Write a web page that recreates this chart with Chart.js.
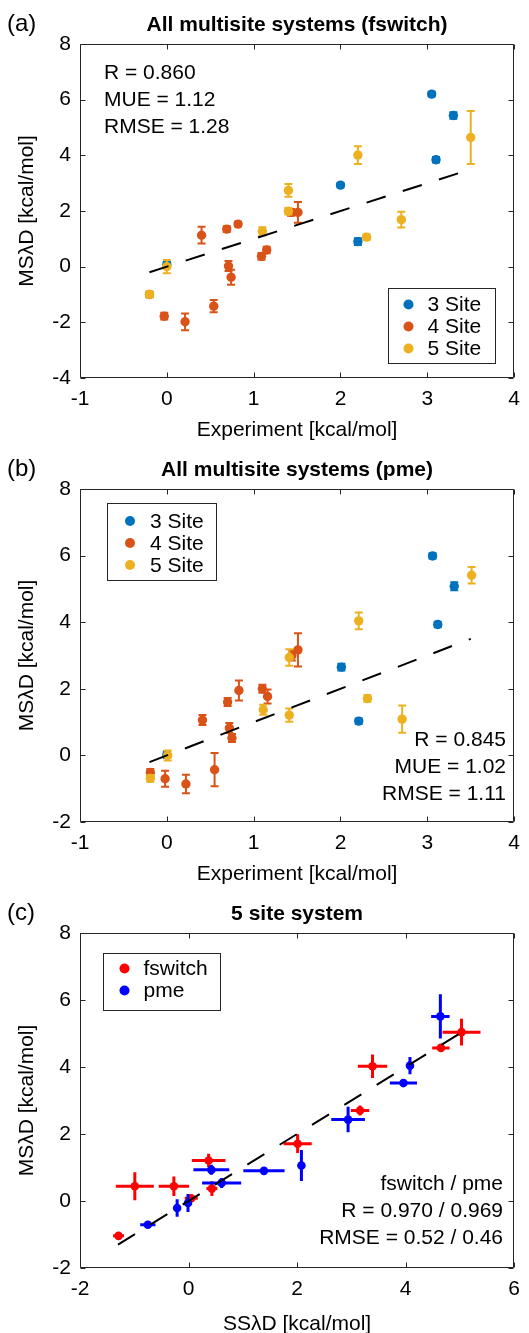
<!DOCTYPE html>
<html>
<head>
<meta charset="utf-8">
<title>MSλD multisite</title>
<script src="https://cdn.jsdelivr.net/npm/chart.js@4"></script>
<style>
  html, body { margin: 0; padding: 0; background: #fff; overflow: hidden; }
  .panel { position: absolute; left: 0; width: 529px; }
</style>
</head>
<body>
<div class="panel" style="top:0;height:445px"><canvas id="chartA"></canvas></div>
<div class="panel" style="top:445px;height:444px"><canvas id="chartB"></canvas></div>
<div class="panel" style="top:889px;height:450px"><canvas id="chartC"></canvas></div>
<script>
// 資料 (a) fswitch：實驗值 vs MSλD
const a3x = [0, 2.0, 2.2, 3.05, 3.1, 3.3];
const a3y = [0.08, 2.93, 0.9, 6.2, 3.84, 5.43];
const a3e = [0.1, 0.08, 0.12, 0.08, 0.1, 0.12];
const a4x = [-0.2, -0.03, 0.21, 0.4, 0.54, 0.69, 0.82, 0.71, 0.74, 1.09, 1.15, 1.43, 1.51];
const a4y = [-1.0, -1.78, -1.98, 1.13, -1.42, 1.35, 1.53, 0.02, -0.38, 0.37, 0.6, 1.95, 1.95];
const a4e = [0.1, 0.12, 0.3, 0.3, 0.22, 0.1, 0.08, 0.18, 0.27, 0.12, 0.12, 0.12, 0.37];
const a5x = [-0.2, 0, 1.1, 1.4, 1.4, 2.2, 2.3, 2.7, 3.5];
const a5y = [-1.0, 0.0, 1.27, 2.74, 1.99, 4.01, 1.06, 1.69, 4.64];
const a5e = [0.1, 0.24, 0.15, 0.23, 0.12, 0.32, 0.1, 0.28, 0.95];
const diagA = [-0.2, 3.5];

// 資料 (b) pme
const b3x = [0, 2.01, 2.21, 3.06, 3.12, 3.31];
const b3y = [0.02, 2.65, 1.03, 5.99, 3.93, 5.08];
const b3e = [0.1, 0.1, 0.08, 0.08, 0.08, 0.12];
const b4x = [-0.19, -0.02, 0.22, 0.41, 0.55, 0.70, 0.83, 0.72, 0.75, 1.10, 1.16, 1.44, 1.51];
const b4y = [-0.51, -0.70, -0.86, 1.06, -0.43, 1.60, 1.95, 0.82, 0.52, 2.0, 1.77, 3.0, 3.17];
const b4e = [0.1, 0.24, 0.28, 0.15, 0.5, 0.12, 0.3, 0.15, 0.12, 0.12, 0.21, 0.15, 0.5];
const b5x = [-0.19, 0.01, 1.11, 1.41, 1.41, 2.21, 2.31, 2.71, 3.51];
const b5y = [-0.69, 0.0, 1.37, 2.94, 1.21, 4.04, 1.71, 1.09, 5.41];
const b5e = [0.1, 0.15, 0.15, 0.25, 0.2, 0.25, 0.1, 0.41, 0.25];
const diagB = [-0.2, 3.5];

// 資料 (c) 5 site：SSλD vs MSλD
const fsX = [-1.29, -0.99, -0.27, 0.05, 0.37, 0.43, 2.01, 3.16, 3.39, 4.65, 5.03];
const fsY = [-1.04, 0.44, 0.44, 0.08, 1.21, 0.37, 1.71, 2.70, 4.02, 4.57, 5.04];
const fsXerr = [0.1, 0.35, 0.28, 0.12, 0.31, 0.1, 0.26, 0.17, 0.27, 0.16, 0.35];
const fsYerr = [0.08, 0.42, 0.29, 0.1, 0.2, 0.22, 0.28, 0.15, 0.35, 0.06, 0.4];
const pmeX = [-0.75, -0.21, -0.01, 0.42, 0.61, 1.39, 2.08, 2.94, 3.96, 4.08, 4.64];
const pmeY = [-0.71, -0.21, -0.06, 0.93, 0.54, 0.90, 1.06, 2.43, 3.52, 4.04, 5.51];
const pmeXerr = [0.14, 0.05, 0.06, 0.33, 0.36, 0.38, 0.05, 0.31, 0.25, 0.06, 0.17];
const pmeYerr = [0.06, 0.26, 0.27, 0.15, 0.15, 0.1, 0.46, 0.38, 0.05, 0.26, 0.66];
const diagC = [-1.3, 5.05];

// 刻度
const xTicksAB = [-1, 0, 1, 2, 3, 4];
const yTicksA = [-4, -2, 0, 2, 4, 6, 8];
const yTicksB = [-2, 0, 2, 4, 6, 8];
const xTicksC = [-2, 0, 2, 4, 6];
const yTicksC = [-2, 0, 2, 4, 6, 8];

// 文字
const sitesLabels = ['3 Site', '4 Site', '5 Site'];
const methodLabels = ['fswitch', 'pme'];
const statsA = ['R = 0.860', 'MUE = 1.12', 'RMSE = 1.28'];
const statsB = ['R = 0.845', 'MUE = 1.02', 'RMSE = 1.11'];
const statsC = ['fswitch / pme', 'R = 0.970 / 0.969', 'RMSE = 0.52 / 0.46'];

const FONT = "'Liberation Sans', Arial, Helvetica, sans-serif";
Chart.defaults.font.family = FONT;
Chart.defaults.color = '#000';
const C_BLUE = '#0072BD', C_ORANGE = '#D95319', C_YELLOW = '#EDB120';

const pts = (xs, ys) => xs.map((x, i) => ({ x: x, y: ys[i] }));

// 誤差棒：在各資料集之前畫
const errorBars = {
    id: 'errorBars',
    beforeDatasetDraw(chart, args) {
        const ds = chart.data.datasets[args.index];
        if (!ds.yErr && !ds.xErr) return;
        const { ctx, scales: { x, y } } = chart;
        const cap = ds.cap || 0;
        ctx.save();
        ctx.strokeStyle = ds.backgroundColor;
        ctx.lineWidth = ds.errWidth || 2;
        ds.data.forEach((p, i) => {
            const px = x.getPixelForValue(p.x), py = y.getPixelForValue(p.y);
            ctx.beginPath();
            if (ds.yErr) {
                const t = y.getPixelForValue(p.y + ds.yErr[i]), b = y.getPixelForValue(p.y - ds.yErr[i]);
                ctx.moveTo(px, t); ctx.lineTo(px, b);
                if (cap) {
                    ctx.moveTo(px - cap, t); ctx.lineTo(px + cap, t);
                    ctx.moveTo(px - cap, b); ctx.lineTo(px + cap, b);
                }
            }
            if (ds.xErr) {
                const l = x.getPixelForValue(p.x - ds.xErr[i]), r = x.getPixelForValue(p.x + ds.xErr[i]);
                ctx.moveTo(l, py); ctx.lineTo(r, py);
            }
            ctx.stroke();
        });
        ctx.restore();
    }
};

// 外框 + 內向刻度 (MATLAB box on)
const frame = {
    id: 'frame',
    afterDatasetsDraw(chart) {
        const { ctx, chartArea: a, scales: { x, y } } = chart;
        const L = Math.round(a.left) + 0.5, R = Math.round(a.right) - 0.5;
        const T = Math.round(a.top) + 0.5, B = Math.round(a.bottom) - 0.5;
        ctx.save();
        ctx.strokeStyle = '#262626';
        ctx.lineWidth = 1;
        ctx.beginPath();
        ctx.rect(L, T, R - L, B - T);
        x.ticks.forEach(t => {
            const px = Math.round(x.getPixelForValue(t.value)) + 0.5;
            ctx.moveTo(px, B); ctx.lineTo(px, B - 5);
            ctx.moveTo(px, T); ctx.lineTo(px, T + 5);
        });
        y.ticks.forEach(t => {
            const py = Math.round(y.getPixelForValue(t.value)) + 0.5;
            ctx.moveTo(L, py); ctx.lineTo(L + 5, py);
            ctx.moveTo(R, py); ctx.lineTo(R - 5, py);
        });
        ctx.stroke();
        ctx.restore();
    }
};

// 面板標記、圖例、統計文字
function decor(cfg) {
    return {
        id: 'decor',
        afterDraw(chart) {
            const ctx = chart.ctx;
            ctx.save();
            ctx.fillStyle = '#000';
            ctx.textBaseline = 'middle';
            ctx.font = '24px ' + FONT;
            ctx.textAlign = 'left';
            ctx.fillText(cfg.label, 7, 24);

            const lg = cfg.legend;
            ctx.fillStyle = '#fff';
            ctx.fillRect(lg.box[0], lg.box[1], lg.box[2] - lg.box[0], lg.box[3] - lg.box[1]);
            ctx.strokeStyle = '#262626';
            ctx.lineWidth = 1;
            ctx.strokeRect(Math.round(lg.box[0]) + 0.5, Math.round(lg.box[1]) + 0.5,
                Math.round(lg.box[2] - lg.box[0]), Math.round(lg.box[3] - lg.box[1]));
            ctx.font = '21px ' + FONT;
            const items = chart.data.datasets.filter(d => d.inLegend).sort((p, q) => p.legendIndex - q.legendIndex);
            items.forEach((d, i) => {
                const yy = lg.y0 + i * lg.dy;
                ctx.fillStyle = d.backgroundColor;
                ctx.beginPath();
                ctx.arc(lg.mx, yy, 5, 0, Math.PI * 2);
                ctx.fill();
                ctx.fillStyle = '#000';
                ctx.fillText(d.label, lg.tx, yy + 1);
            });

            const st = cfg.stats;
            ctx.textAlign = st.align;
            st.lines.forEach((s, i) => ctx.fillText(s, st.x, st.y0 + i * st.dy));
            ctx.restore();
        }
    };
}

function makeScales(xt, yt, xTitle, yTitle, xH) {
    return {
        x: {
            type: 'linear', min: xt[0], max: xt[xt.length - 1],
            afterBuildTicks: s => { s.ticks = xt.map(v => ({ value: v })); },
            afterFit: s => { s.height = xH; },
            grid: { display: false, drawTicks: false },
            border: { display: false },
            ticks: { padding: 9, color: '#000', font: { size: 21 }, maxRotation: 0, autoSkip: false, callback: v => String(v) },
            title: { display: true, text: xTitle, color: '#000', font: { size: 21 }, padding: { top: 0, bottom: 2 } }
        },
        y: {
            type: 'linear', min: yt[0], max: yt[yt.length - 1],
            afterBuildTicks: s => { s.ticks = yt.map(v => ({ value: v })); },
            afterFit: s => { s.width = 80; },
            grid: { display: false, drawTicks: false },
            border: { display: false },
            ticks: { padding: 9, color: '#000', font: { size: 21 }, autoSkip: false, callback: v => String(v) },
            title: { display: true, text: yTitle, color: '#000', font: { size: 21 }, padding: { top: 15, bottom: 0 } }
        }
    };
}

function baseOptions(title, scales) {
    return {
        responsive: true,
        maintainAspectRatio: false,
        animation: false,
        events: [],
        layout: { padding: { left: 0, right: 6, top: 0, bottom: 0 } },
        plugins: {
            legend: { display: false },
            tooltip: { enabled: false },
            title: {
                display: true, text: title, color: '#000', fullSize: false,
                font: { size: 21, weight: 'bold', lineHeight: 1.2 },
                padding: { top: 13, bottom: 5.8 }
            }
        },
        scales: scales
    };
}

function siteSet(label, color, xs, ys, es, order, idx) {
    return {
        label: label, data: pts(xs, ys), yErr: es, cap: 4, errWidth: 2,
        backgroundColor: color, borderColor: color,
        pointRadius: 4.7, pointBorderWidth: 0, order: order,
        inLegend: true, legendIndex: idx
    };
}

function diagSet(d) {
    return {
        label: 'y = x', data: pts(d, d), showLine: true, pointRadius: 0,
        borderColor: '#000', borderWidth: 2, borderDash: [20, 18], order: 0
    };
}

// (a)
new Chart(document.getElementById('chartA'), {
    type: 'scatter',
    data: {
        datasets: [
            siteSet(sitesLabels[0], C_BLUE, a3x, a3y, a3e, 3, 0),
            siteSet(sitesLabels[1], C_ORANGE, a4x, a4y, a4e, 2, 1),
            siteSet(sitesLabels[2], C_YELLOW, a5x, a5y, a5e, 1, 2),
            diagSet(diagA)
        ]
    },
    options: baseOptions('All multisite systems (fswitch)',
        makeScales(xTicksAB, yTicksA, 'Experiment [kcal/mol]', 'MSλD [kcal/mol]', 67)),
    plugins: [errorBars, frame, decor({
        label: '(a)',
        legend: { box: [388, 288, 495, 363], mx: 408.5, tx: 427.5, y0: 304.5, dy: 22 },
        stats: { align: 'left', x: 104, y0: 73.5, dy: 27, lines: statsA }
    })]
});

// (b)
new Chart(document.getElementById('chartB'), {
    type: 'scatter',
    data: {
        datasets: [
            siteSet(sitesLabels[0], C_BLUE, b3x, b3y, b3e, 3, 0),
            siteSet(sitesLabels[1], C_ORANGE, b4x, b4y, b4e, 2, 1),
            siteSet(sitesLabels[2], C_YELLOW, b5x, b5y, b5e, 1, 2),
            diagSet(diagB)
        ]
    },
    options: baseOptions('All multisite systems (pme)',
        makeScales(xTicksAB, yTicksB, 'Experiment [kcal/mol]', 'MSλD [kcal/mol]', 67)),
    plugins: [errorBars, frame, decor({
        label: '(b)',
        legend: { box: [107, 58, 216, 135], mx: 130, tx: 150, y0: 76, dy: 22 },
        stats: { align: 'right', x: 506, y0: 295, dy: 27, lines: statsB }
    })]
});

// (c)
new Chart(document.getElementById('chartC'), {
    type: 'scatter',
    data: {
        datasets: [
            {
                label: methodLabels[0], data: pts(fsX, fsY), xErr: fsXerr, yErr: fsYerr, errWidth: 3,
                backgroundColor: '#FF0000', borderColor: '#FF0000', pointRadius: 4.3, pointBorderWidth: 0,
                order: 2, inLegend: true, legendIndex: 0
            },
            {
                label: methodLabels[1], data: pts(pmeX, pmeY), xErr: pmeXerr, yErr: pmeYerr, errWidth: 3,
                backgroundColor: '#0000FF', borderColor: '#0000FF', pointRadius: 4.3, pointBorderWidth: 0,
                order: 1, inLegend: true, legendIndex: 1
            },
            diagSet(diagC)
        ]
    },
    options: baseOptions('5 site system',
        makeScales(xTicksC, yTicksC, 'SSλD [kcal/mol]', 'MSλD [kcal/mol]', 71)),
    plugins: [errorBars, frame, decor({
        label: '(c)',
        legend: { box: [103, 64, 220, 121], mx: 124.5, tx: 143.5, y0: 79.5, dy: 22 },
        stats: { align: 'right', x: 503, y0: 295, dy: 27, lines: statsC }
    })]
});
</script>
</body>
</html>
